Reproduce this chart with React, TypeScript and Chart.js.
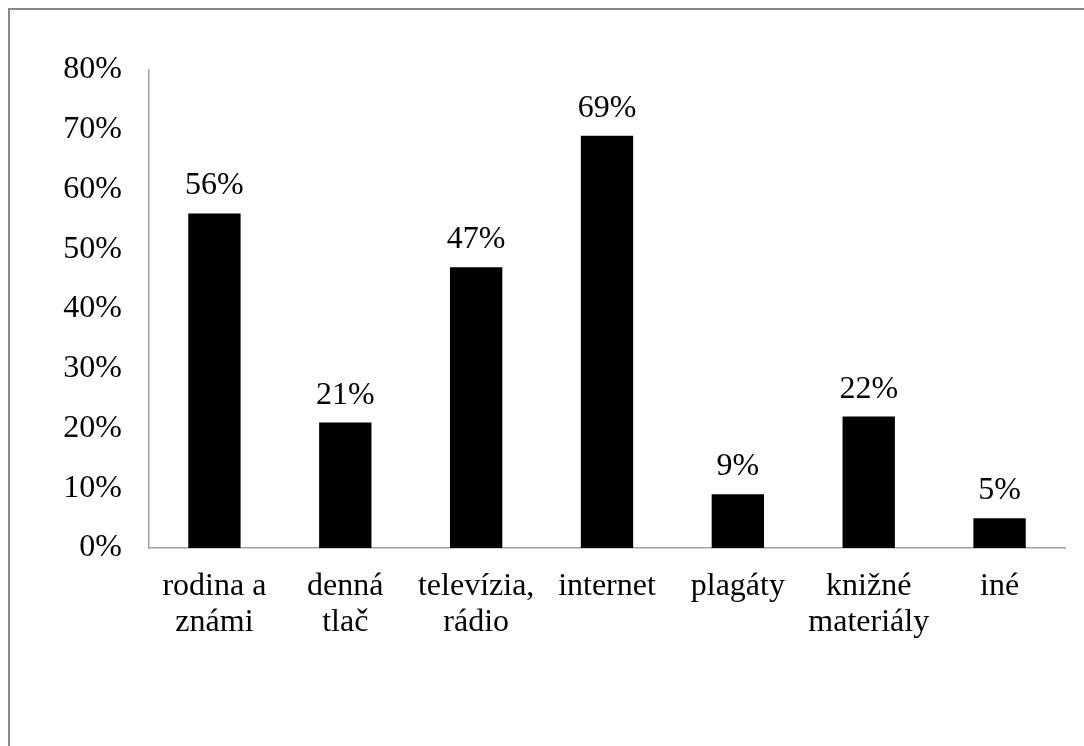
import React, { useEffect, useRef } from "react";
import { Chart, registerables } from "chart.js";

Chart.register(...registerables);

const categories: string[][] = [
  ["rodina a", "známi"],
  ["denná", "tlač"],
  ["televízia,", "rádio"],
  ["internet"],
  ["plagáty"],
  ["knižné", "materiály"],
  ["iné"],
];
const values: number[] = [56, 21, 47, 69, 9, 22, 5];
const yTicks: number[] = [0, 10, 20, 30, 40, 50, 60, 70, 80];

const FONT_FAMILY = "'Liberation Serif', 'Times New Roman', serif";
const FONT_SIZE = 32;

const valueLabels = {
  id: "valueLabels",
  afterDatasetsDraw(chart: any) {
    const ctx = chart.ctx;
    const meta = chart.getDatasetMeta(0);
    ctx.save();
    ctx.font = `${FONT_SIZE}px ${FONT_FAMILY}`;
    ctx.fillStyle = "#000";
    ctx.textAlign = "center";
    ctx.textBaseline = "alphabetic";
    meta.data.forEach((bar: any, i: number) => {
      ctx.fillText(`${values[i]}%`, bar.x, bar.y - 19);
    });
    ctx.restore();
  },
};

export default function App() {
  const ref = useRef<HTMLCanvasElement | null>(null);
  useEffect(() => {
    if (!ref.current) return;
    const chart = new Chart(ref.current, {
      type: "bar",
      data: {
        labels: categories,
        datasets: [
          {
            data: values,
            backgroundColor: "#000000",
            borderWidth: 0,
            barPercentage: 0.4,
            categoryPercentage: 1,
          },
        ],
      },
      options: {
        animation: false,
        responsive: false,
        maintainAspectRatio: false,
        layout: { padding: { top: 60, right: 35, left: 0, bottom: 0 } },
        plugins: {
          legend: { display: false },
          tooltip: { enabled: false },
        },
        scales: {
          x: {
            grid: { display: false, drawTicks: false },
            border: { display: true, color: "#a0a0a0", width: 1.5 },
            ticks: {
              color: "#000",
              padding: 21,
              maxRotation: 0,
              autoSkip: false,
              font: { family: FONT_FAMILY, size: FONT_SIZE, lineHeight: 1.12 },
            },
            afterFit: (scale: any) => {
              scale.height = 252;
            },
          },
          y: {
            min: 0,
            max: 80,
            afterBuildTicks: (scale: any) => {
              scale.ticks = yTicks.map((v) => ({ value: v }));
            },
            grid: { display: false, drawTicks: false },
            border: { display: true, color: "#a0a0a0", width: 1.5 },
            ticks: {
              color: "#000",
              padding: 27,
              callback: (v: any) => `${v}%`,
              font: { family: FONT_FAMILY, size: FONT_SIZE },
            },
            afterFit: (scale: any) => {
              scale.width = 139;
            },
          },
        },
      },
      plugins: [valueLabels],
    });
    return () => chart.destroy();
  }, []);

  return (
    <div
      style={{
        position: "fixed",
        left: 0,
        top: 0,
        width: 1084,
        height: 746,
        overflow: "hidden",
        background: "#fff",
      }}
    >
      <div
        style={{
          position: "absolute",
          left: 8,
          top: 8,
          width: 1090,
          height: 790,
          border: "2px solid #878787",
          background: "#fff",
        }}
      >
        <canvas ref={ref} width={1090} height={790} style={{ display: "block" }} />
      </div>
    </div>
  );
}
